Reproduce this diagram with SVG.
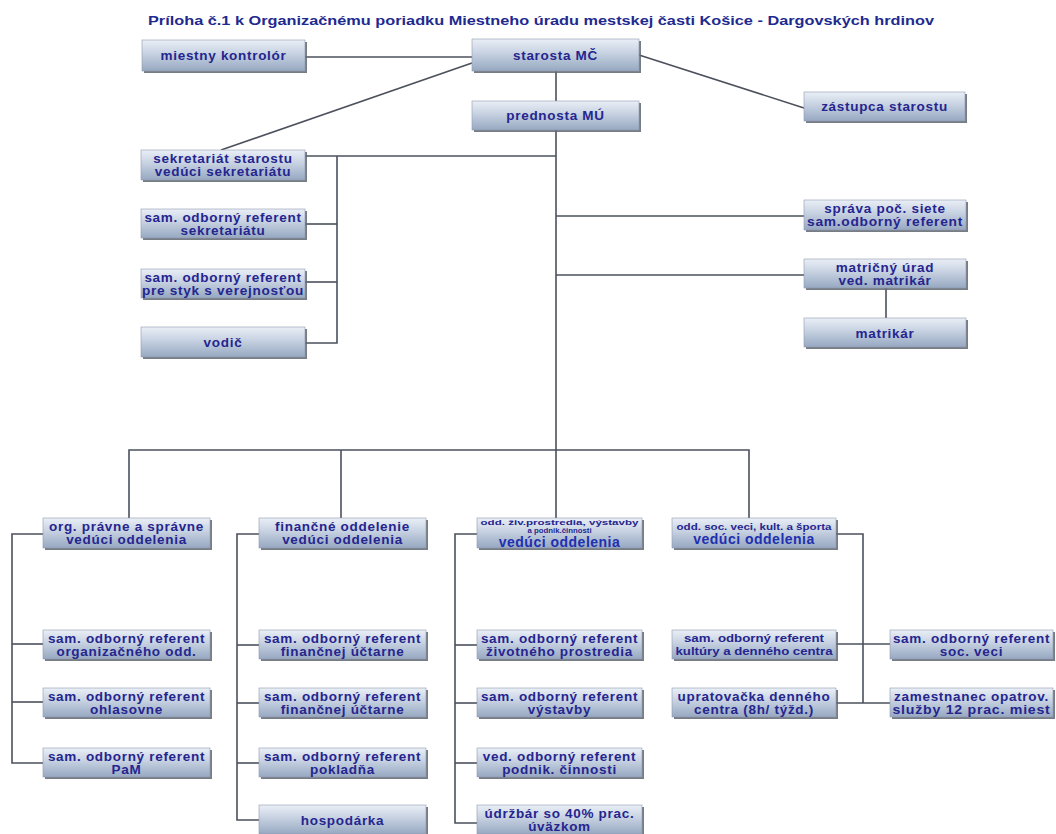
<svg xmlns="http://www.w3.org/2000/svg" width="1056" height="834" viewBox="0 0 1056 834">
<defs>
<linearGradient id="g" x1="0" y1="0" x2="0" y2="1">
<stop offset="0" stop-color="#eaeff6"/>
<stop offset="0.45" stop-color="#c6d1e1"/>
<stop offset="1" stop-color="#96a8c1"/>
</linearGradient>
<style>
.sh{fill:#5f6670;opacity:0.85}
.bx{fill:url(#g);stroke:#8f9cb0;stroke-width:0.6}
.t{font-family:"Liberation Sans",Arial,sans-serif;font-weight:bold;font-size:13.5px;letter-spacing:0.7px;fill:#25258f;text-anchor:middle}
.s{font-size:7.8px;letter-spacing:0}
.m{font-size:11.5px;letter-spacing:0}
.v{fill:#1f2fb0;font-size:14px;letter-spacing:0.5px}
.ttl{font-family:"Liberation Sans",Arial,sans-serif;font-weight:bold;font-size:12.5px;fill:#1f2a8f}
.c{fill:none;stroke:#4b505c;stroke-width:1.6}
</style>
</defs>
<rect width="1056" height="834" fill="#ffffff"/>
<text class="ttl" x="148" y="25" textLength="786" lengthAdjust="spacingAndGlyphs">Príloha č.1 k Organizačnému poriadku Miestneho úradu mestskej časti Košice - Dargovských hrdinov</text>

<g id="connectors">
<line class="c" x1="305" y1="57" x2="472" y2="57"/>
<line class="c" x1="472" y1="63" x2="221" y2="150"/>
<line class="c" x1="639" y1="55" x2="804" y2="108"/>
<line class="c" x1="556" y1="71" x2="556" y2="101"/>
<line class="c" x1="556" y1="130" x2="556" y2="518"/>
<line class="c" x1="305" y1="156" x2="556" y2="156"/>
<polyline class="c" points="337,156 337,343 305,343"/>
<line class="c" x1="305" y1="224" x2="337" y2="224"/>
<line class="c" x1="305" y1="282" x2="337" y2="282"/>
<line class="c" x1="556" y1="216" x2="804" y2="216"/>
<line class="c" x1="556" y1="275" x2="804" y2="275"/>
<line class="c" x1="886" y1="288" x2="886" y2="318"/>
<polyline class="c" points="129,518 129,450 749,450 749,518"/>
<line class="c" x1="341" y1="450" x2="341" y2="518"/>
<polyline class="c" points="43,534 12,534 12,763 43,763"/>
<line class="c" x1="12" y1="644" x2="43" y2="644"/>
<line class="c" x1="12" y1="702" x2="43" y2="702"/>
<polyline class="c" points="259,534 237,534 237,820 259,820"/>
<line class="c" x1="237" y1="645" x2="259" y2="645"/>
<line class="c" x1="237" y1="703" x2="259" y2="703"/>
<line class="c" x1="237" y1="763" x2="259" y2="763"/>
<polyline class="c" points="477,534 455,534 455,823 477,823"/>
<line class="c" x1="455" y1="645" x2="477" y2="645"/>
<line class="c" x1="455" y1="703" x2="477" y2="703"/>
<line class="c" x1="455" y1="763" x2="477" y2="763"/>
<polyline class="c" points="836,534 863,534 863,703"/>
<line class="c" x1="836" y1="644" x2="890" y2="644"/>
<line class="c" x1="836" y1="703" x2="890" y2="703"/>
</g>

<g id="miestny-kontrolor"><rect class="sh" x="144" y="42" width="163" height="31"/><rect class="bx" x="142" y="40" width="163" height="31"/><text class="t" x="223.5" y="60">miestny kontrolór</text></g>
<g id="starosta"><rect class="sh" x="474" y="41" width="167" height="32"/><rect class="bx" x="472" y="39" width="167" height="32"/><text class="t" x="555.5" y="60">starosta MČ</text></g>
<g id="zastupca"><rect class="sh" x="806" y="94" width="161" height="29"/><rect class="bx" x="804" y="92" width="161" height="29"/><text class="t" x="884.5" y="111">zástupca starostu</text></g>
<g id="prednosta"><rect class="sh" x="474" y="103" width="167" height="29"/><rect class="bx" x="472" y="101" width="167" height="29"/><text class="t" x="555.5" y="120">prednosta MÚ</text></g>

<g id="sekretariat"><rect class="sh" x="143" y="152" width="164" height="30"/><rect class="bx" x="141" y="150" width="164" height="30"/><text class="t" x="223" y="163">sekretariát starostu</text><text class="t" x="223" y="176">vedúci sekretariátu</text></g>
<g id="ref-sekretariatu"><rect class="sh" x="143" y="211" width="164" height="29"/><rect class="bx" x="141" y="209" width="164" height="29"/><text class="t" x="223" y="222">sam. odborný referent</text><text class="t" x="223" y="235">sekretariátu</text></g>
<g id="ref-styk"><rect class="sh" x="143" y="271" width="164" height="29"/><rect class="bx" x="141" y="269" width="164" height="29"/><text class="t" x="223" y="282">sam. odborný referent</text><text class="t" x="223" y="295" textLength="162" lengthAdjust="spacingAndGlyphs">pre styk s verejnosťou</text></g>
<g id="vodic"><rect class="sh" x="143" y="329" width="164" height="30"/><rect class="bx" x="141" y="327" width="164" height="30"/><text class="t" x="223" y="347">vodič</text></g>

<g id="sprava-siete"><rect class="sh" x="806" y="202" width="162" height="30"/><rect class="bx" x="804" y="200" width="162" height="30"/><text class="t" x="885" y="213">správa poč. siete</text><text class="t" x="885" y="226" textLength="156" lengthAdjust="spacingAndGlyphs">sam.odborný referent</text></g>
<g id="matricny-urad"><rect class="sh" x="806" y="261" width="162" height="29"/><rect class="bx" x="804" y="259" width="162" height="29"/><text class="t" x="885" y="272">matričný úrad</text><text class="t" x="885" y="285">ved. matrikár</text></g>
<g id="matrikar"><rect class="sh" x="806" y="320" width="162" height="29"/><rect class="bx" x="804" y="318" width="162" height="29"/><text class="t" x="885" y="338">matrikár</text></g>

<g id="org-oddelenie"><rect class="sh" x="45" y="520" width="167" height="30"/><rect class="bx" x="43" y="518" width="167" height="30"/><text class="t" x="126.5" y="531">org. právne a správne</text><text class="t" x="126.5" y="544">vedúci oddelenia</text></g>
<g id="ref-org"><rect class="sh" x="45" y="632" width="167" height="29"/><rect class="bx" x="43" y="630" width="167" height="29"/><text class="t" x="126.5" y="643">sam. odborný referent</text><text class="t" x="126.5" y="656">organizačného odd.</text></g>
<g id="ref-ohlasovne"><rect class="sh" x="45" y="690" width="167" height="29"/><rect class="bx" x="43" y="688" width="167" height="29"/><text class="t" x="126.5" y="701">sam. odborný referent</text><text class="t" x="126.5" y="714">ohlasovne</text></g>
<g id="ref-pam"><rect class="sh" x="45" y="750" width="167" height="29"/><rect class="bx" x="43" y="748" width="167" height="29"/><text class="t" x="126.5" y="761">sam. odborný referent</text><text class="t" x="126.5" y="774">PaM</text></g>

<g id="financne-oddelenie"><rect class="sh" x="261" y="520" width="167" height="30"/><rect class="bx" x="259" y="518" width="167" height="30"/><text class="t" x="342.5" y="531">finančné oddelenie</text><text class="t" x="342.5" y="544">vedúci oddelenia</text></g>
<g id="ref-uctaren-1"><rect class="sh" x="261" y="632" width="167" height="29"/><rect class="bx" x="259" y="630" width="167" height="29"/><text class="t" x="342.5" y="643">sam. odborný referent</text><text class="t" x="342.5" y="656">finančnej účtarne</text></g>
<g id="ref-uctaren-2"><rect class="sh" x="261" y="690" width="167" height="29"/><rect class="bx" x="259" y="688" width="167" height="29"/><text class="t" x="342.5" y="701">sam. odborný referent</text><text class="t" x="342.5" y="714">finančnej účtarne</text></g>
<g id="ref-pokladna"><rect class="sh" x="261" y="750" width="167" height="29"/><rect class="bx" x="259" y="748" width="167" height="29"/><text class="t" x="342.5" y="761">sam. odborný referent</text><text class="t" x="342.5" y="774">pokladňa</text></g>
<g id="hospodarka"><rect class="sh" x="261" y="807" width="167" height="29"/><rect class="bx" x="259" y="805" width="167" height="29"/><text class="t" x="342.5" y="825">hospodárka</text></g>

<g id="zp-oddelenie"><rect class="sh" x="479" y="520" width="165" height="30"/><rect class="bx" x="477" y="518" width="165" height="30"/><text class="t s" x="559.5" y="525" textLength="158" lengthAdjust="spacingAndGlyphs">odd. živ.prostredia, výstavby</text><text class="t s" x="559.5" y="532.5">a podnik.činnosti</text><text class="t v" x="559.5" y="546.5">vedúci oddelenia</text></g>
<g id="ref-zp"><rect class="sh" x="479" y="632" width="165" height="29"/><rect class="bx" x="477" y="630" width="165" height="29"/><text class="t" x="559.5" y="643">sam. odborný referent</text><text class="t" x="559.5" y="656">životného prostredia</text></g>
<g id="ref-vystavby"><rect class="sh" x="479" y="690" width="165" height="29"/><rect class="bx" x="477" y="688" width="165" height="29"/><text class="t" x="559.5" y="701">sam. odborný referent</text><text class="t" x="559.5" y="714">výstavby</text></g>
<g id="ref-podnik"><rect class="sh" x="479" y="750" width="165" height="29"/><rect class="bx" x="477" y="748" width="165" height="29"/><text class="t" x="559.5" y="761">ved. odborný referent</text><text class="t" x="559.5" y="774">podnik. činnosti</text></g>
<g id="udrzbar"><rect class="sh" x="479" y="807" width="165" height="29"/><rect class="bx" x="477" y="805" width="165" height="29"/><text class="t" x="559.5" y="818">údržbár so 40% prac.</text><text class="t" x="559.5" y="831">úväzkom</text></g>

<g id="soc-oddelenie"><rect class="sh" x="674" y="520" width="164" height="30"/><rect class="bx" x="672" y="518" width="164" height="30"/><text class="t s" x="754" y="530" textLength="155" lengthAdjust="spacingAndGlyphs" style="font-size:9px">odd. soc. veci, kult. a športa</text><text class="t v" x="754" y="544">vedúci oddelenia</text></g>
<g id="ref-kultury"><rect class="sh" x="674" y="632" width="164" height="29"/><rect class="bx" x="672" y="630" width="164" height="29"/><text class="t m" x="754" y="642" textLength="140" lengthAdjust="spacingAndGlyphs">sam. odborný referent</text><text class="t m" x="754" y="655" textLength="157" lengthAdjust="spacingAndGlyphs">kultúry a denného centra</text></g>
<g id="upratovacka"><rect class="sh" x="674" y="690" width="164" height="29"/><rect class="bx" x="672" y="688" width="164" height="29"/><text class="t" x="754" y="701">upratovačka denného</text><text class="t" x="754" y="714">centra (8h/ týžd.)</text></g>
<g id="ref-soc-veci"><rect class="sh" x="892" y="632" width="163" height="29"/><rect class="bx" x="890" y="630" width="163" height="29"/><text class="t" x="971.5" y="643">sam. odborný referent</text><text class="t" x="971.5" y="656">soc. veci</text></g>
<g id="zamestnanec"><rect class="sh" x="892" y="690" width="163" height="29"/><rect class="bx" x="890" y="688" width="163" height="29"/><text class="t" x="971.5" y="701">zamestnanec opatrov.</text><text class="t" x="971.5" y="714" textLength="158" lengthAdjust="spacingAndGlyphs">služby 12 prac. miest</text></g>
</svg>
